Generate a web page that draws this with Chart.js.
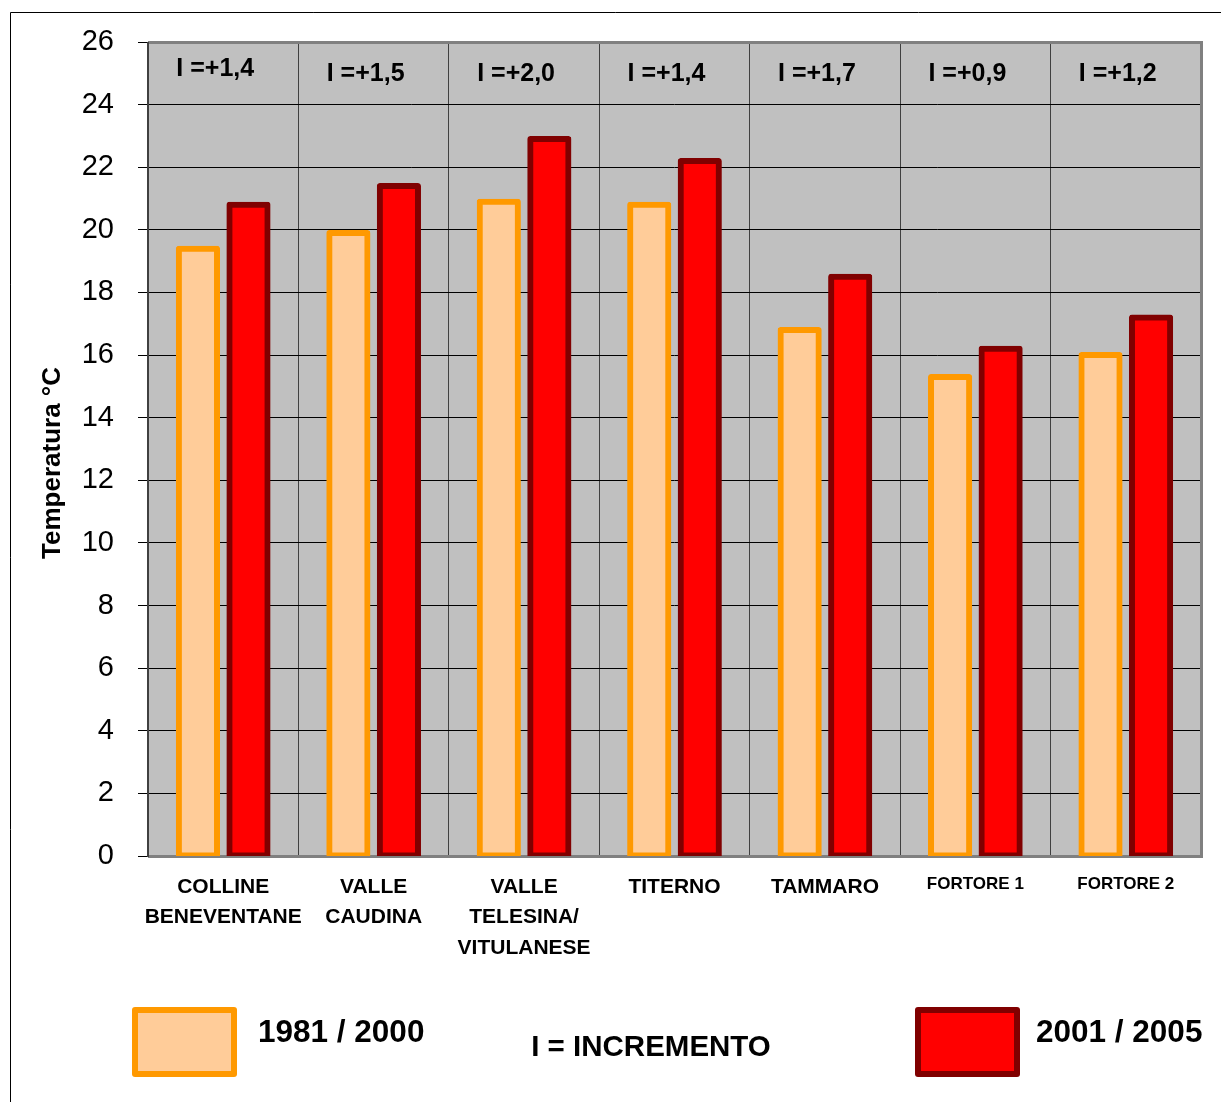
<!DOCTYPE html>
<html lang="it">
<head>
<meta charset="utf-8">
<title>Temperature medie per area</title>
<script src="https://cdn.jsdelivr.net/npm/chart.js@4.4.1/dist/chart.umd.min.js"></script>
<style>
  html, body { margin: 0; padding: 0; background: #ffffff; }
  #wrap { position: relative; width: 1221px; height: 1102px; }
  canvas { display: block; }
</style>
</head>
<body>
<div id="wrap"><canvas id="chart" width="1221" height="1102"></canvas></div>
<script>
// Aree territoriali
const categories = [
  ['COLLINE', 'BENEVENTANE'],
  ['VALLE', 'CAUDINA'],
  ['VALLE', 'TELESINA/', 'VITULANESE'],
  'TITERNO',
  'TAMMARO',
  'FORTORE 1',
  'FORTORE 2'
];

// Temperature medie (°C)
const period1Label = '1981 / 2000';
const period1Values = [19.4, 19.9, 20.9, 20.8, 16.8, 15.3, 16.0];

const period2Label = '2001 / 2005';
const period2Values = [20.8, 21.4, 22.9, 22.2, 18.5, 16.2, 17.2];

// Incremento tra i due periodi
const increments = ['I =+1,4', 'I =+1,5', 'I =+2,0', 'I =+1,4', 'I =+1,7', 'I =+0,9', 'I =+1,2'];

const yTicks = [0, 2, 4, 6, 8, 10, 12, 14, 16, 18, 20, 22, 24, 26];
const yTitle = 'Temperatura °C';
const legendNote = 'I = INCREMENTO';

const FONT = "'Liberation Sans', Arial, Helvetica, sans-serif";

// Cornice esterna e sfondo grigio dell'area del grafico
const plotBackground = {
  id: 'plotBackground',
  beforeDraw(chart) {
    const { ctx, chartArea: a } = chart;
    ctx.save();
    ctx.strokeStyle = '#000000';
    ctx.lineWidth = 1;
    ctx.beginPath();
    ctx.moveTo(10.5, 1102);
    ctx.lineTo(10.5, 12.5);
    ctx.lineTo(1221, 12.5);
    ctx.stroke();
    ctx.fillStyle = '#C0C0C0';
    ctx.fillRect(a.left, a.top, a.right - a.left, a.bottom - a.top);
    ctx.restore();
  }
};

// Bordo dell'area del grafico, titolo dell'asse e incrementi
const plotFrame = {
  id: 'plotFrame',
  beforeDatasetsDraw(chart) {
    const { ctx, chartArea: a } = chart;
    ctx.save();
    ctx.strokeStyle = '#808080';
    ctx.lineWidth = 3;
    ctx.beginPath();
    ctx.moveTo(a.left, a.top + 0.5);
    ctx.lineTo(a.right + 0.5, a.top + 0.5);
    ctx.lineTo(a.right + 0.5, a.bottom + 0.5);
    ctx.lineTo(a.left, a.bottom + 0.5);
    ctx.stroke();
    ctx.strokeStyle = '#404040';
    ctx.lineWidth = 2;
    ctx.beginPath();
    ctx.moveTo(a.left, a.top);
    ctx.lineTo(a.left, a.bottom + 1);
    ctx.stroke();

    // incrementi sopra ogni area
    const xs = chart.scales.x;
    ctx.fillStyle = '#000000';
    ctx.font = 'bold 25px ' + FONT;
    ctx.textAlign = 'center';
    ctx.textBaseline = 'middle';
    increments.forEach((t, i) => {
      ctx.fillText(t, xs.getPixelForValue(i) - 8, a.top + (i === 0 ? 27 : 32));
    });

    // titolo asse Y
    ctx.translate(53, 463);
    ctx.rotate(-Math.PI / 2);
    ctx.font = 'bold 26px ' + FONT;
    ctx.fillText(yTitle, 0, 0);
    ctx.restore();
  }
};

// Legenda in basso
const bottomLegend = {
  id: 'bottomLegend',
  afterDraw(chart) {
    const { ctx } = chart;
    const ds = chart.data.datasets;
    const boxes = [
      { x: 132, y: 1007, textX: 258 },
      { x: 915, y: 1007, textX: 1036 }
    ];
    ctx.save();
    boxes.forEach((b, i) => {
      const d = ds[i];
      const w = 105, h = 70, bw = 6;
      ctx.fillStyle = d.borderColor;
      ctx.beginPath();
      ctx.roundRect(b.x, b.y, w, h, 3);
      ctx.fill();
      ctx.fillStyle = d.backgroundColor;
      ctx.fillRect(b.x + bw, b.y + bw, w - 2 * bw, h - 2 * bw);
      ctx.fillStyle = '#000000';
      ctx.font = 'bold 31.5px ' + FONT;
      ctx.textAlign = 'left';
      ctx.textBaseline = 'middle';
      ctx.fillText(d.label, b.textX, 1033);
    });
    ctx.font = 'bold 29.5px ' + FONT;
    ctx.textAlign = 'center';
    ctx.fillText(legendNote, 651, 1048);
    ctx.restore();
  }
};

const barStyle = {
  borderWidth: 6,
  borderSkipped: false,
  borderRadius: 3,
  inflateAmount: 3
};

new Chart(document.getElementById('chart'), {
  type: 'bar',
  data: {
    labels: categories,
    datasets: [
      Object.assign({
        label: period1Label,
        data: period1Values,
        backgroundColor: '#FFCC99',
        borderColor: '#FF9900'
      }, barStyle),
      Object.assign({
        label: period2Label,
        data: period2Values,
        backgroundColor: '#FF0000',
        borderColor: '#800000'
      }, barStyle)
    ]
  },
  options: {
    responsive: false,
    animation: false,
    devicePixelRatio: 1,
    categoryPercentage: 0.672,
    barPercentage: 0.755,
    layout: { padding: { top: 42, right: 20, left: 0, bottom: 0 } },
    plugins: {
      legend: { display: false },
      tooltip: { enabled: false },
      title: { display: false }
    },
    scales: {
      x: {
        grid: {
          offset: true,
          color: '#404040',
          lineWidth: 1,
          drawTicks: false
        },
        border: { display: false },
        ticks: {
          autoSkip: false,
          maxRotation: 0,
          minRotation: 0,
          padding: 16,
          color: '#000000',
          font: (ctx) => ({
            family: FONT,
            weight: 'bold',
            size: ctx.index >= 5 ? 17 : 21,
            lineHeight: 1.45
          })
        },
        afterFit(scale) { scale.height = 246; }
      },
      y: {
        min: 0,
        max: 26,
        afterBuildTicks(scale) {
          scale.ticks = yTicks.map(v => ({ value: v }));
        },
        grid: {
          color: '#000000',
          lineWidth: 1,
          drawTicks: true,
          tickLength: 10,
          tickColor: '#000000'
        },
        border: { display: false },
        ticks: {
          padding: 24,
          color: '#000000',
          font: { family: FONT, size: 29 }
        },
        afterFit(scale) { scale.width = 148; }
      }
    }
  },
  plugins: [plotBackground, plotFrame, bottomLegend]
});
</script>
</body>
</html>
